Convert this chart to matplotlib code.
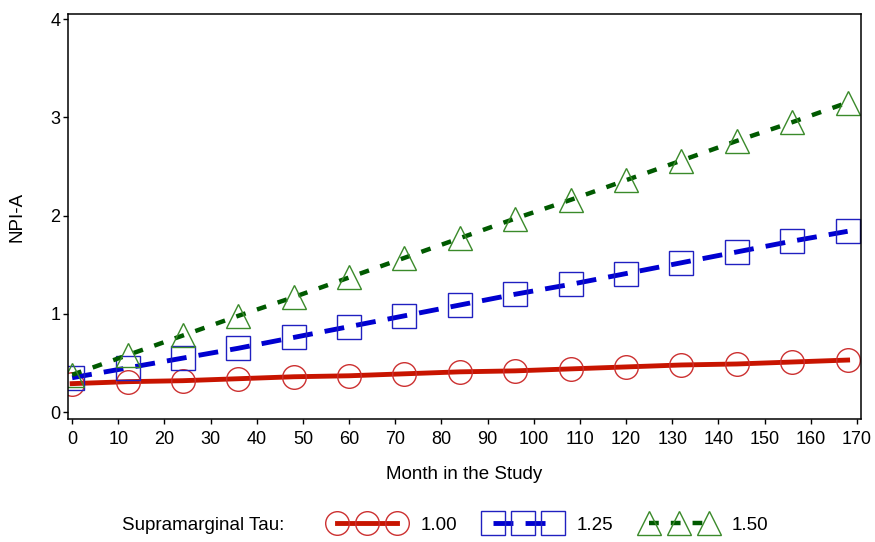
import matplotlib.pyplot as plt
from matplotlib.legend_handler import HandlerLine2D

# data
months = [0, 12, 24, 36, 48, 60, 72, 84, 96, 108, 120, 132, 144, 156, 168]
npi_100 = [0.29, 0.31, 0.32, 0.34, 0.36, 0.37, 0.39, 0.41, 0.42, 0.44, 0.46, 0.48, 0.49, 0.51, 0.53]
npi_125 = [0.35, 0.45, 0.55, 0.65, 0.76, 0.87, 0.98, 1.09, 1.20, 1.30, 1.41, 1.52, 1.63, 1.74, 1.84]
npi_150 = [0.38, 0.58, 0.78, 0.98, 1.17, 1.37, 1.57, 1.77, 1.97, 2.16, 2.36, 2.56, 2.76, 2.95, 3.15]
labels = ['1.00', '1.25', '1.50']

plt.rcParams['font.family'] = ['Liberation Sans', 'DejaVu Sans']

fig = plt.figure(figsize=(8.75, 5.42), dpi=100)
ax = fig.add_axes([0.0777, 0.2269, 0.9063, 0.7471])

l1, = ax.plot(months, npi_100, color='#c81400', lw=3.5, marker='o', ms=17,
              mfc='none', mec='#cc3030', mew=1.0, label=labels[0])
l2, = ax.plot(months, npi_125, color='#0000d0', lw=3.5, marker='s', ms=17,
              mfc='none', mec='#2020c0', mew=1.0, label=labels[1])
l2.set_dashes((4.1, 2.5))
l3, = ax.plot(months, npi_150, color='#005a00', lw=3.2, marker='^', ms=17,
              mfc='none', mec='#3a8a2a', mew=1.0, label=labels[2])
l3.set_dashes((2.2, 2.7))

ax.set_xlim(-0.9, 170.9)
ax.set_ylim(-0.07, 4.05)
ax.set_xticks(range(0, 171, 10))
ax.set_yticks([0, 1, 2, 3, 4])
ax.tick_params(labelsize=13, length=3.5, width=1.0, direction='out')
ax.tick_params(axis='x', pad=5)
ax.tick_params(axis='y', pad=2)
for s in ax.spines.values():
    s.set_linewidth(1.1)

ax.set_xlabel('Month in the Study', fontsize=13.5, labelpad=13)
ax.set_ylabel('NPI-A', fontsize=13.5)
ax.yaxis.set_label_coords(-0.053, 0.5)

fig.text(122 / 875, 1 - 525 / 542, 'Supramarginal Tau:', fontsize=13.5, va='center', ha='left')
hm = {h: HandlerLine2D(marker_pad=0.65, numpoints=3) for h in (l1, l2, l3)}
fig.legend(handles=[l1, l2, l3], ncol=3, frameon=False, fontsize=13.5,
           loc='center left', bbox_to_anchor=(325 / 875, 1 - 525 / 542),
           borderpad=0, borderaxespad=0, handlelength=4.5, handletextpad=0.6,
           columnspacing=1.25, handler_map=hm)

fig.savefig('out.png', dpi=100)
